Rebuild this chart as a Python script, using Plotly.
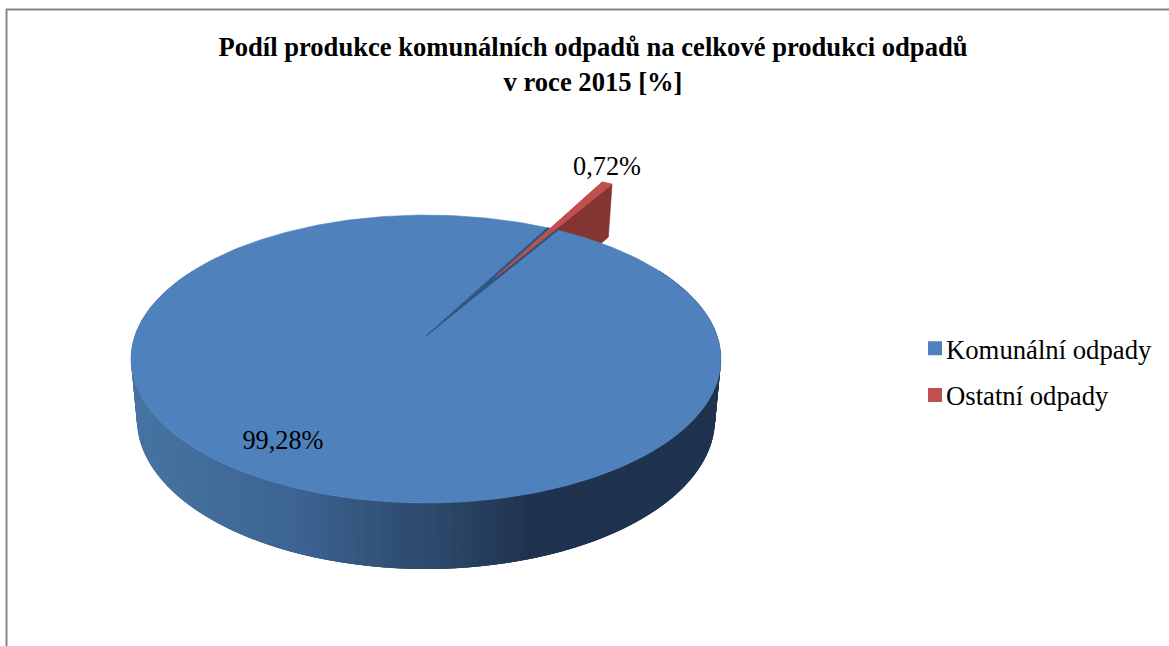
import math
import numpy as np
import plotly.graph_objects as go

# ---- data ----
categories = ["Komunální odpady", "Ostatní odpady"]
values = [99.28, 0.72]
colors_top = ["#4F81BD", "#C0504D"]
title_lines = ["Podíl produkce komunálních odpadů na celkové produkci odpadů", "v roce 2015 [%]"]

# ---- projection of the pie (tilted disc, seen in perspective) ----
W, H = 1169, 646
CX, CY = 426.0, 336.0
RX, RY = 291.2, 140.3
K = 0.16
START = 59.0        # angle where the first slice starts, going clockwise
EXPLODE = 0.52      # pull-out of the small slice (in radii)
SERIF = "Liberation Serif"


def project(u, v):
    w = 1 + K * v
    return CX + RX * u / w, CY - RY * v / w


def extrude(x, y):
    """Point of the lower face under a point of the upper face."""
    yn = (CY - y) / RY
    return CX + (x - CX) * 0.98, y + 59.2 - 5.74 * yn


def sector(a0, a1, n, off=(0.0, 0.0)):
    ang = np.radians(np.linspace(a0, a1, n))
    return [(off[0] + math.cos(a), off[1] + math.sin(a)) for a in ang]


def poly(points, color, lw=0.6):
    xs = [p[0] for p in points] + [points[0][0]]
    ys = [p[1] for p in points] + [points[0][1]]
    return go.Scatter(x=xs, y=ys, mode="lines", fill="toself", fillcolor=color,
                      line=dict(color=color, width=lw), hoverinfo="skip", showlegend=False)


WALL_STOPS = [(130, (70, 116, 162)), (300, (60, 99, 146)), (400, (47, 78, 114)),
              (450, (43, 70, 103)), (530, (31, 51, 79)), (725, (31, 51, 79))]


def wall_color(x):
    xs = [s[0] for s in WALL_STOPS]
    rgb = [np.interp(x, xs, [s[1][i] for s in WALL_STOPS]) for i in range(3)]
    return "rgb(%d,%d,%d)" % tuple(int(round(c)) for c in rgb)


fractions = [v / sum(values) for v in values]
blue_sweep = fractions[0] * 360
blue_end = START - blue_sweep            # clockwise
red_mid = START + fractions[1] * 180
off = (EXPLODE * math.cos(math.radians(red_mid)), EXPLODE * math.sin(math.radians(red_mid)))

fig = go.Figure()

# side wall of the big slice: overlapping shaded strips along the front of the rim
edges = np.radians(np.linspace(150, 390, 161))
rim = [project(math.cos(a), math.sin(a)) for a in edges]
low = [extrude(*p) for p in rim]
for i in range(len(rim) - 1):
    j = min(i + 4, len(rim))
    pts = rim[i:j] + low[i:j][::-1]
    fig.add_trace(poly(pts, wall_color((rim[i][0] + rim[i + 1][0]) / 2), lw=0))

# small slice: right-hand wall, hidden partly by the big slice
red_outer = sector(START, START + fractions[1] * 360, 8, off)
red_apex = project(*off)
red_edge = project(*red_outer[0])
fig.add_trace(poly([red_apex, red_edge, extrude(*red_edge), extrude(*red_apex)], "#843432"))

# top faces, with the inside of the notch between them
blue_top = [project(0, 0)] + [project(*p) for p in sector(START, blue_end, 361)]
fig.add_trace(poly(blue_top, colors_top[0]))
notch = [project(0, 0)] + [project(*p) for p in sector(START, START + fractions[1] * 360, 8)]
fig.add_trace(poly(notch, "#2F5580", lw=1))
red_top = [red_apex] + [project(*p) for p in red_outer]
fig.add_trace(poly(red_top, colors_top[1], lw=1))

# data labels
labels = [("%.2f%%" % v).replace(".", ",") for v in values]
fig.add_trace(go.Scatter(x=[283, 607], y=[442, 168], mode="text", text=labels,
                         textposition="middle center", hoverinfo="skip", showlegend=False,
                         textfont=dict(family=SERIF, size=26.3, color="#000000")))

# legend
for i, (name, col) in enumerate(zip(categories, colors_top)):
    fig.add_trace(go.Scatter(x=[None], y=[None], mode="markers", name=name, legendgroup=name,
                             marker=dict(symbol="square", size=14, color=col)))

fig.update_layout(
    width=W, height=H, autosize=False,
    margin=dict(l=0, r=0, t=0, b=0),
    paper_bgcolor="#FFFFFF", plot_bgcolor="#FFFFFF",
    xaxis=dict(range=[0, W], visible=False, fixedrange=True),
    yaxis=dict(range=[H, 0], visible=False, fixedrange=True),
    title=dict(text="<b>" + "<br>".join(title_lines) + "</b>", x=593 / W, xanchor="center",
               y=1 - 56 / H, yanchor="middle",
               font=dict(family=SERIF, size=26.6, color="#000000")),
    legend=dict(x=906 / W, y=1 - 372 / H, xanchor="left", yanchor="middle",
                font=dict(family=SERIF, size=26.7, color="#000000"),
                tracegroupgap=9, bgcolor="rgba(0,0,0,0)", itemclick=False, itemdoubleclick=False),
    shapes=[
        dict(type="line", xref="x", yref="y", x0=6.5, x1=6.5, y0=9, y1=H,
             line=dict(color="#868686", width=2)),
        dict(type="line", xref="x", yref="y", x0=6, x1=W, y0=9.5, y1=9.5,
             line=dict(color="#868686", width=2)),
    ],
    showlegend=True,
)
fig.write_html("out.html", config={"displayModeBar": False},
               post_script="document.body.style.margin='0';document.body.style.overflow='hidden';"
                           "document.querySelectorAll('.legendsymbols').forEach(function(e){"
                           "e.setAttribute('transform','translate(9,0)');});")
